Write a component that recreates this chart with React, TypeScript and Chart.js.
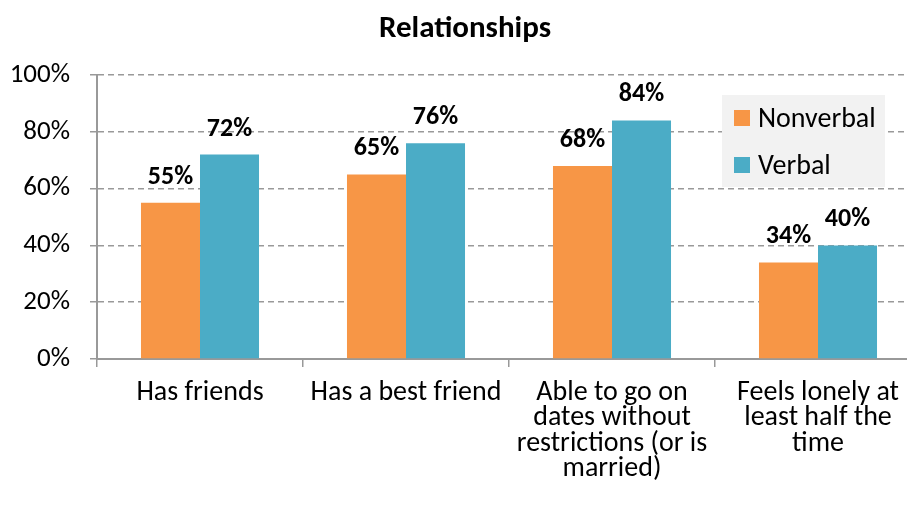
import React, { useEffect, useRef } from "react";
import { Chart, registerables } from "chart.js";

Chart.register(...registerables);

const title = "Relationships";
const categories: string[][] = [
  ["Has friends"],
  ["Has a best friend"],
  ["Able to go on", "dates without", "restrictions (or is", "married)"],
  ["Feels lonely at", "least half the", "time"],
];
const seriesNames = ["Nonverbal", "Verbal"];
const nonverbal = [55, 65, 68, 34];
const verbal = [72, 76, 84, 40];
const seriesColors = ["#F79646", "#4BACC6"];
const yMin = 0;
const yMax = 100;
const yStep = 20;

const FONT = "Carlito, Lato, 'Open Sans', sans-serif";

export default function App() {
  const ref = useRef<HTMLCanvasElement>(null);

  useEffect(() => {
    if (!ref.current) return;

    const titlePlugin = {
      id: "titleDraw",
      afterDraw(chart: any) {
        const ctx = chart.ctx;
        ctx.save();
        ctx.font = `bold 31px ${FONT}`;
        ctx.fillStyle = "#000";
        ctx.textAlign = "center";
        ctx.textBaseline = "alphabetic";
        ctx.fillText(title, chart.width / 2, 37);
        ctx.restore();
      },
    };

    const labelPlugin = {
      id: "valueLabels",
      afterDatasetsDraw(chart: any) {
        const ctx = chart.ctx;
        ctx.save();
        ctx.font = `bold 26px ${FONT}`;
        ctx.fillStyle = "#000";
        ctx.textAlign = "center";
        ctx.textBaseline = "alphabetic";
        chart.data.datasets.forEach((ds: any, i: number) => {
          const meta = chart.getDatasetMeta(i);
          meta.data.forEach((el: any, j: number) => {
            ctx.fillText(`${ds.data[j]}%`, el.x, el.y - 19);
          });
        });
        ctx.restore();
      },
    };

    const legendPlugin = {
      id: "innerLegend",
      afterDatasetsDraw(chart: any) {
        const ctx = chart.ctx;
        const area = chart.chartArea;
        const bx = 722;
        const by = area.top + 20;
        const bw = 163;
        const bh = 92;
        ctx.save();
        ctx.fillStyle = "#F2F2F2";
        ctx.fillRect(bx, by, bw, bh);
        ctx.font = `28px ${FONT}`;
        ctx.textBaseline = "alphabetic";
        ctx.textAlign = "left";
        chart.data.datasets.forEach((ds: any, i: number) => {
          const top = by + 15 + i * 47;
          ctx.fillStyle = ds.backgroundColor;
          ctx.fillRect(bx + 12, top, 16, 16);
          ctx.fillStyle = "#000";
          ctx.fillText(ds.label, bx + 36, top + 16.5);
        });
        ctx.restore();
      },
    };

    const chart = new Chart(ref.current, {
      type: "bar",
      data: {
        labels: categories,
        datasets: [
          { label: seriesNames[0], data: nonverbal, backgroundColor: seriesColors[0] },
          { label: seriesNames[1], data: verbal, backgroundColor: seriesColors[1] },
        ],
      },
      options: {
        responsive: false,
        animation: false,
        devicePixelRatio: 1,
        layout: { padding: { top: 75, left: 0, right: 9, bottom: 0 } },
        datasets: { bar: { categoryPercentage: 0.573, barPercentage: 1, borderWidth: 0 } },
        plugins: {
          legend: { display: false },
          title: { display: false },
          tooltip: { enabled: false },
        },
        scales: {
          x: {
            afterFit: (s: any) => {
              s.height = 149;
            },
            grid: {
              offset: true,
              drawOnChartArea: false,
              drawTicks: true,
              tickLength: 8,
              color: "#999999",
              lineWidth: 1.5,
            },
            border: { display: true, color: "#999999", width: 2 },
            ticks: {
              autoSkip: false,
              maxRotation: 0,
              minRotation: 0,
              padding: 13,
              color: "#000",
              font: { family: FONT, size: 28, lineHeight: 0.91 },
            },
          },
          y: {
            min: yMin,
            max: yMax,
            afterFit: (s: any) => {
              s.width = 97;
            },
            grid: {
              color: "#999999",
              lineWidth: 1.5,
              tickLength: 7,
              tickBorderDash: [],
            },
            border: { display: true, color: "#999999", width: 2, dash: [6, 4] },
            ticks: {
              stepSize: yStep,
              padding: 20,
              color: "#000",
              font: { family: FONT, size: 27 },
              callback: (v: any) => `${v}%`,
            },
          },
        },
      },
      plugins: [titlePlugin, labelPlugin, legendPlugin],
    });

    return () => chart.destroy();
  }, []);

  return (
    <div
      style={{
        position: "fixed",
        left: 0,
        top: 0,
        width: 907,
        height: 508,
        overflow: "hidden",
        background: "#fff",
      }}
    >
      <canvas ref={ref} width={930} height={508} style={{ width: 930, height: 508, display: "block" }} />
    </div>
  );
}
